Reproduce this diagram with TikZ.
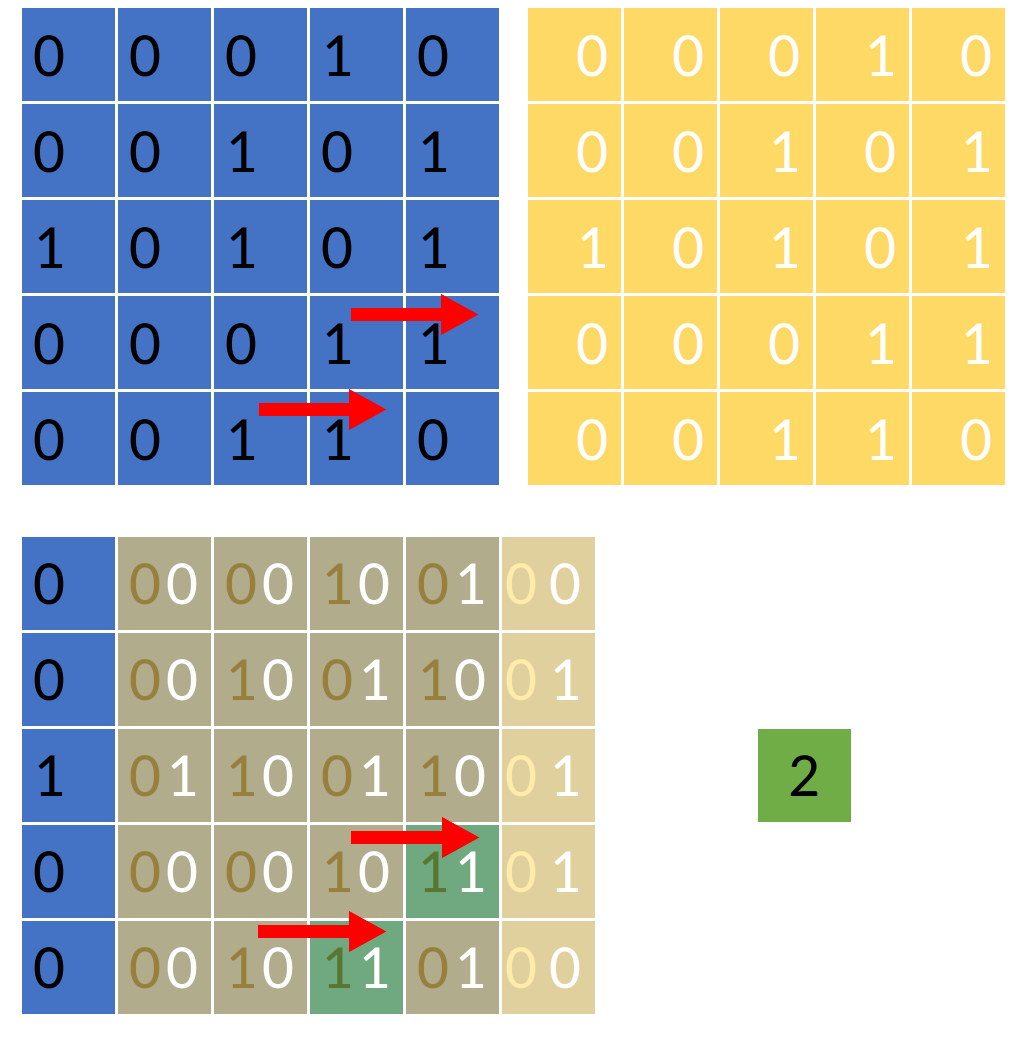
\documentclass[tikz,border=0pt]{standalone}
\usepackage{fontspec}
\setmainfont{Carlito}
\usetikzlibrary{arrows.meta}
\definecolor{cblue}{HTML}{4472C4}
\definecolor{cyellow}{HTML}{FFD966}
\definecolor{colive}{HTML}{B0AC8C}
\definecolor{clight}{HTML}{E0D09E}
\definecolor{cgreenov}{HTML}{70A880}
\definecolor{cgreen}{HTML}{70AD47}
\definecolor{dolive}{HTML}{98803C}
\definecolor{dgreen}{HTML}{587830}
\definecolor{dpale}{HTML}{FFEBAA}
\definecolor{cred}{HTML}{FF0000}
\begin{document}
\begin{tikzpicture}[x=1pt,y=-1pt,
  digit/.style={inner sep=0pt,font=\fontsize{63}{63}\selectfont},
  ldig/.style={digit,anchor=base west},
  rdig/.style={digit,anchor=base east},
  redarrow/.style={draw=cred,line width=13pt,-{Triangle[length=38pt,width=38pt]}}]
\useasboundingbox (0,0) rectangle (1026,1037);
% top-left blue grid
\foreach \r/\vals in {0/{0,0,0,1,0},1/{0,0,1,0,1},2/{1,0,1,0,1},3/{0,0,0,1,1},4/{0,0,1,1,0}}{
  \foreach \v [count=\c from 0] in \vals{
    \fill[cblue] ({22+96*\c},{8+96*\r}) rectangle +(93,93);
    \node[ldig] (b-\r-\c) at ({22+96*\c+11},{8+96*\r+68}) {\v};
  }
}
% top-right yellow grid
\foreach \r/\vals in {0/{0,0,0,1,0},1/{0,0,1,0,1},2/{1,0,1,0,1},3/{0,0,0,1,1},4/{0,0,1,1,0}}{
  \foreach \v [count=\c from 0] in \vals{
    \fill[cyellow] ({528+96*\c},{8+96*\r}) rectangle +(93,93);
    \node[rdig,text=white] (y-\r-\c) at ({528+96*\c+93-12},{8+96*\r+68}) {\v};
  }
}
% bottom grid: blue column
\foreach \r/\v in {0/0,1/0,2/1,3/0,4/0}{
  \fill[cblue] (22,{537+96*\r}) rectangle +(93,93);
  \node[ldig] (m-\r-0) at (33,{537+96*\r+67}) {\v};
}
% olive cells
\foreach \r/\c/\p/\q in {0/1/0/0,0/2/0/0,0/3/1/0,0/4/0/1,1/1/0/0,1/2/1/0,1/3/0/1,1/4/1/0,2/1/0/1,2/2/1/0,2/3/0/1,2/4/1/0,3/1/0/0,3/2/0/0,3/3/1/0,4/1/0/0,4/2/1/0,4/4/0/1}{
  \fill[colive] ({22+96*\c},{537+96*\r}) rectangle +(93,93);
  \node[ldig,text=dolive] (ma-\r-\c) at ({22+96*\c+11},{537+96*\r+67}) {\p};
  \node[rdig,text=white] (mb-\r-\c) at ({22+96*\c+93-12},{537+96*\r+67}) {\q};
}
% green overlap cells
\foreach \r/\c in {3/4,4/3}{
  \fill[cgreenov] ({22+96*\c},{537+96*\r}) rectangle +(93,93);
  \node[ldig,text=dgreen] (ga-\r-\c) at ({22+96*\c+11},{537+96*\r+67}) {1};
  \node[rdig,text=white] (gb-\r-\c) at ({22+96*\c+93-12},{537+96*\r+67}) {1};
}
% light last column
\foreach \r/\q in {0/0,1/1,2/1,3/1,4/0}{
  \fill[clight] (502,{537+96*\r}) rectangle +(93,93);
  \node[ldig,text=dpale] (la-\r) at (505,{537+96*\r+67}) {0};
  \node[rdig,text=white] (lb-\r) at (582,{537+96*\r+67}) {\q};
}
% result cell
\fill[cgreen] (758,729) rectangle +(93,93);
\node[digit,anchor=base] (res) at (804.5,796) {2};
% arrows
\coordinate (a1s) at (351,314.5); \coordinate (a1e) at (479,314.5);
\coordinate (a2s) at (259,409.5); \coordinate (a2e) at (387,409.5);
\coordinate (a3s) at (351,837.5); \coordinate (a3e) at (480,837.5);
\coordinate (a4s) at (258,931.5); \coordinate (a4e) at (387,931.5);
\draw[redarrow] (a1s) -- (a1e);
\draw[redarrow] (a2s) -- (a2e);
\draw[redarrow] (a3s) -- (a3e);
\draw[redarrow] (a4s) -- (a4e);
\end{tikzpicture}
\end{document}
